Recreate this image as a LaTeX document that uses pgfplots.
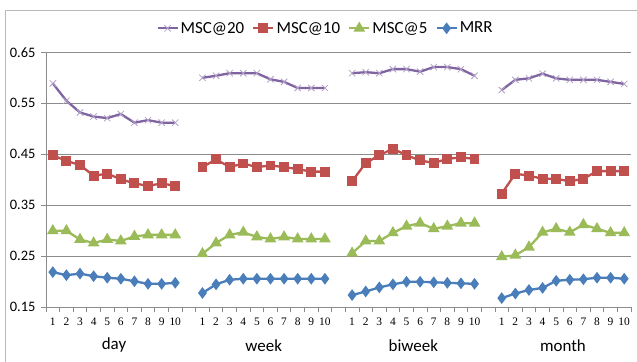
\documentclass[border=0pt]{standalone}
\usepackage{pgfplots}
\pgfplotsset{compat=1.18}
\usepackage{pgfplotstable}
\usepackage{fontspec}
\setmainfont{Carlito}
\newfontfamily\numfont{Liberation Serif}
\definecolor{c20}{RGB}{128,100,162}
\definecolor{c10}{RGB}{192,80,77}
\definecolor{c5}{RGB}{155,187,89}
\definecolor{cmrr}{RGB}{74,126,187}
\definecolor{gridc}{RGB}{140,140,140}

\pgfplotstableread{
x y
1 0.589
2 0.555
3 0.532
4 0.524
5 0.521
6 0.529
7 0.512
8 0.517
9 0.512
10 0.512
11 nan
12 0.600
13 0.604
14 0.609
15 0.609
16 0.609
17 0.597
18 0.592
19 0.580
20 0.580
21 0.580
22 nan
23 0.609
24 0.611
25 0.609
26 0.617
27 0.617
28 0.612
29 0.621
30 0.621
31 0.617
32 0.604
33 nan
34 0.576
35 0.596
36 0.599
37 0.608
38 0.599
39 0.596
40 0.596
41 0.596
42 0.592
43 0.588
}\msctwenty

\pgfplotstableread{
x y
1 0.448
2 0.437
3 0.429
4 0.408
5 0.412
6 0.401
7 0.393
8 0.388
9 0.393
10 0.388
11 nan
12 0.425
13 0.440
14 0.425
15 0.432
16 0.425
17 0.428
18 0.425
19 0.421
20 0.416
21 0.416
22 nan
23 0.397
24 0.433
25 0.448
26 0.461
27 0.448
28 0.438
29 0.433
30 0.441
31 0.444
32 0.441
33 nan
34 0.373
35 0.412
36 0.408
37 0.402
38 0.402
39 0.397
40 0.402
41 0.417
42 0.417
43 0.417
}\mscten

\pgfplotstableread{
x y
1 0.300
2 0.300
3 0.283
4 0.276
5 0.283
6 0.280
7 0.289
8 0.292
9 0.292
10 0.292
11 nan
12 0.255
13 0.276
14 0.292
15 0.297
16 0.288
17 0.284
18 0.288
19 0.284
20 0.284
21 0.284
22 nan
23 0.256
24 0.280
25 0.280
26 0.296
27 0.309
28 0.315
29 0.304
30 0.309
31 0.315
32 0.315
33 nan
34 0.249
35 0.252
36 0.268
37 0.297
38 0.304
39 0.297
40 0.312
41 0.304
42 0.296
43 0.296
}\mscfive

\pgfplotstableread{
x y
1 0.219
2 0.213
3 0.216
4 0.211
5 0.208
6 0.206
7 0.201
8 0.196
9 0.196
10 0.198
11 nan
12 0.178
13 0.195
14 0.204
15 0.206
16 0.206
17 0.206
18 0.206
19 0.206
20 0.206
21 0.206
22 nan
23 0.174
24 0.181
25 0.189
26 0.195
27 0.200
28 0.200
29 0.199
30 0.198
31 0.197
32 0.196
33 nan
34 0.168
35 0.177
36 0.184
37 0.188
38 0.202
39 0.204
40 0.205
41 0.208
42 0.208
43 0.206
}\mrr

\begin{document}
\begin{tikzpicture}
\begin{axis}[
  at={(46bp,54.7bp)}, anchor=south west,
  width=585bp, height=255bp, scale only axis,
  xmin=0.5, xmax=43.5, ymin=0.15, ymax=0.65,
  clip=false,
  unbounded coords=jump,
  axis x line*=bottom, axis y line*=left,
  axis line style={gridc, line width=0.8bp},
  ymajorgrids, major grid style={gridc, line width=0.8bp},
  ytick={0.15,0.25,0.35,0.45,0.55,0.65},
  yticklabel={\pgfmathprintnumber[fixed,fixed zerofill,precision=2,assume math mode=true]{\tick}},
  yticklabel style={font=\fontsize{14.5}{14.5}\selectfont, xshift=-2bp},
  xtick={1,2,3,4,5,6,7,8,9,10,12,13,14,15,16,17,18,19,20,21,23,24,25,26,27,28,29,30,31,32,34,35,36,37,38,39,40,41,42,43},
  xticklabels={1,2,3,4,5,6,7,8,9,10,1,2,3,4,5,6,7,8,9,10,1,2,3,4,5,6,7,8,9,10,1,2,3,4,5,6,7,8,9,10},
  xticklabel style={font=\numfont\fontsize{11.5}{11.5}\selectfont, yshift=-2bp},
  minor xtick={0.5,1.5,...,43.5},
  tick align=outside,
  major tick length=5bp, minor tick length=5bp,
  xtick style={draw=none},
  minor x tick style={draw=gridc, line width=0.8bp},
  ytick style={gridc, line width=0.8bp},
  every tick/.style={gridc},
  legend columns=4,
  legend style={draw=none, fill=none, at={(0.5,1)}, anchor=center, xshift=-13bp, yshift=24bp,
    font=\fontsize{17}{17}\selectfont,
    /tikz/every even column/.append style={column sep=6bp},
    /tikz/every odd column/.append style={column sep=0bp}},
  legend image code/.code={\draw[mark repeat=2,mark phase=2] plot coordinates {(0bp,0bp) (10bp,0bp) (20bp,0bp)};},
  every axis plot/.append style={line width=2.3bp},
]
\addplot[c20, mark=x, mark size=4.5bp, mark options={c20!60, line width=0.8bp}] table[x=x,y=y] {\msctwenty};
\addlegendentry{MSC@20}
\addplot[c10, mark=square*, mark size=3.8bp, mark options={solid}] table[x=x,y=y] {\mscten};
\addlegendentry{MSC@10}
\addplot[c5, mark=triangle*, mark size=4.5bp, mark options={solid}] table[x=x,y=y] {\mscfive};
\addlegendentry{MSC@5}
\addplot[cmrr, mark=diamond*, mark size=4bp, mark options={solid}] table[x=x,y=y] {\mrr};
\addlegendentry{MRR}
\node[font=\fontsize{17}{17}\selectfont] at (axis cs:5.5,0.15) [yshift=-38bp] {day};
\node[font=\fontsize{17}{17}\selectfont] at (axis cs:16.5,0.15) [yshift=-38bp] {week};
\node[font=\fontsize{17}{17}\selectfont] at (axis cs:27.5,0.15) [yshift=-38bp] {biweek};
\node[font=\fontsize{17}{17}\selectfont] at (axis cs:38.5,0.15) [yshift=-38bp] {month};
\end{axis}
\draw[gray!55, line width=0.8bp] (5bp,0bp) -- (5bp,352bp) -- (637bp,352bp);
\pgfresetboundingbox
\path[use as bounding box] (0bp,0bp) rectangle (637bp,362bp);
\end{tikzpicture}
\end{document}
